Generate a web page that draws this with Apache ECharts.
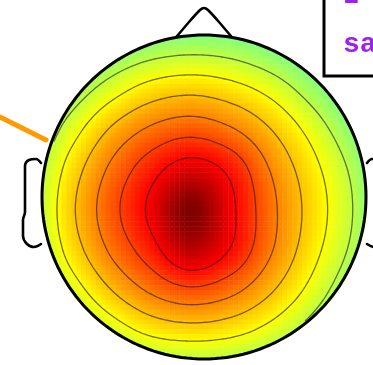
<!DOCTYPE html>
<html>
<head>
<meta charset="utf-8">
<script src="https://cdn.jsdelivr.net/npm/echarts@6/dist/echarts.min.js"></script>
<style>
  html, body { margin: 0; padding: 0; background: #fff; }
  #chart { width: 373px; height: 365px; }
</style>
</head>
<body>
<div id="chart"></div>
<script>
// Scalp potential sampled on a regular 40-unit lattice (plot units, y downward)
const nodeX = [30, 70, 110, 150, 190, 230, 270, 310, 350, 390];
const nodeY = [10, 50, 90, 130, 170, 210, 250, 290, 330, 370];
const potRow10  = [-3.7, -2.6, -1.8, -1.3, -1.05, -1.2, -1.6, -2.4, -3.4, -4.6];
const potRow50  = [-2.3, -1.1, -0.14, 0.52, 0.77, 0.61, 0.05, -0.84, -2.0, -3.3];
const potRow90  = [-1.15, 0.23, 1.51, 2.43, 2.75, 2.44, 1.7, 0.55, -0.77, -2.25];
const potRow130 = [-0.2, 1.48, 3.09, 4.17, 4.65, 4.15, 3.05, 1.71, 0.22, -1.4];
const potRow170 = [0.42, 2.4, 4.17, 5.57, 6.55, 5.77, 3.98, 2.43, 0.9, -0.86];
const potRow210 = [0.64, 2.74, 4.59, 6.19, 8.0, 6.27, 4.32, 2.68, 1.12, -0.68];
const potRow250 = [0.4, 2.37, 4.12, 5.54, 7.05, 5.96, 4.13, 2.45, 0.88, -0.87];
const potRow290 = [-0.27, 1.37, 2.95, 4.15, 4.82, 4.32, 3.15, 1.74, 0.18, -1.5];
const potRow330 = [-1.25, 0.09, 1.35, 2.3, 2.62, 2.4, 1.67, 0.55, -0.77, -2.2];
const potRow370 = [-2.45, -1.25, -0.28, 0.39, 0.64, 0.5, 0.0, -0.86, -2.0, -3.2];
const contourLevels = [1, 2, 3, 4, 5, 6];
const scaleMin = 0;
const scaleMax = 8;
const labelLines = ['I', 'sa'];

// ---- layout & style -------------------------------------------------------
const W = 373, H = 365;
const head = { cx: 204, cy: 197, r: 162 };
const cellsAcross = 66;
const jetTop = ['#80ff80', '#ffff00', '#ff8000', '#ff0000', '#800000'];

const potential = [potRow10, potRow50, potRow90, potRow130, potRow170,
                   potRow210, potRow250, potRow290, potRow330, potRow370];

// Catmull-Rom surface through the lattice
function cr(p0, p1, p2, p3, t) {
  return 0.5 * ((2 * p1) + (-p0 + p2) * t + (2 * p0 - 5 * p1 + 4 * p2 - p3) * t * t +
    (-p0 + 3 * p1 - 3 * p2 + p3) * t * t * t);
}
function locate(nodes, v) {
  let i = 0;
  while (i < nodes.length - 2 && v >= nodes[i + 1]) i++;
  return [i, (v - nodes[i]) / (nodes[i + 1] - nodes[i])];
}
function sample(x, y) {
  const [i, tx] = locate(nodeX, x);
  const [j, ty] = locate(nodeY, y);
  const cl = (k, n) => Math.max(0, Math.min(n - 1, k));
  const rows = [];
  for (let m = -1; m <= 2; m++) {
    const row = potential[cl(j + m, nodeY.length)];
    rows.push(cr(row[cl(i - 1, nodeX.length)], row[cl(i, nodeX.length)],
                 row[cl(i + 1, nodeX.length)], row[cl(i + 2, nodeX.length)], tx));
  }
  return cr(rows[0], rows[1], rows[2], rows[3], ty);
}
const inside = (x, y, pad) => Math.hypot(x - head.cx, y - head.cy) <= head.r + pad;

// heatmap cells
const cell = 2 * head.r / cellsAcross;
const cats = Array.from({ length: cellsAcross }, (_, k) => k);
const cellData = [];
for (let j = 0; j < cellsAcross; j++) {
  for (let i = 0; i < cellsAcross; i++) {
    const x = head.cx - head.r + (i + 0.5) * cell;
    const y = head.cy - head.r + (j + 0.5) * cell;
    if (!inside(x, y, 1)) continue;
    const v = Math.max(scaleMin, Math.min(scaleMax, sample(x, y)));
    cellData.push([i, j, v]);
  }
}

// contour lines by marching squares on a fine sampling
const step = 2;
const gx = [], gy = [];
for (let x = head.cx - head.r - 4; x <= head.cx + head.r + 4; x += step) gx.push(x);
for (let y = head.cy - head.r - 4; y <= head.cy + head.r + 4; y += step) gy.push(y);
const field = gy.map(y => gx.map(x => sample(x, y)));

function segmentsAt(level) {
  const segs = [];
  const below = v => v < level;
  const f = (a, b) => (level - a) / (b - a);
  for (let j = 0; j < gy.length - 1; j++) {
    for (let i = 0; i < gx.length - 1; i++) {
      const v0 = field[j][i], v1 = field[j][i + 1], v2 = field[j + 1][i + 1], v3 = field[j + 1][i];
      const x0 = gx[i], x1 = gx[i + 1], y0 = gy[j], y1 = gy[j + 1];
      const p = [];
      if (below(v0) !== below(v1)) p.push([x0 + (x1 - x0) * f(v0, v1), y0]);
      if (below(v1) !== below(v2)) p.push([x1, y0 + (y1 - y0) * f(v1, v2)]);
      if (below(v3) !== below(v2)) p.push([x0 + (x1 - x0) * f(v3, v2), y1]);
      if (below(v0) !== below(v3)) p.push([x0, y0 + (y1 - y0) * f(v0, v3)]);
      if (p.length === 2) segs.push(p);
      else if (p.length === 4) {
        const c = (v0 + v1 + v2 + v3) / 4;
        if (below(c) === below(v0)) { segs.push([p[0], p[1]]); segs.push([p[2], p[3]]); }
        else { segs.push([p[0], p[3]]); segs.push([p[1], p[2]]); }
      }
    }
  }
  return segs;
}
function chain(segs) {
  const key = p => p[0].toFixed(4) + ',' + p[1].toFixed(4);
  const adj = new Map();
  segs.forEach((s, idx) => s.forEach(pt => {
    const k = key(pt);
    if (!adj.has(k)) adj.set(k, []);
    adj.get(k).push(idx);
  }));
  const used = new Array(segs.length).fill(false);
  const out = [];
  for (let i = 0; i < segs.length; i++) {
    if (used[i]) continue;
    used[i] = true;
    const line = [segs[i][0], segs[i][1]];
    for (const fwd of [true, false]) {
      for (;;) {
        const end = fwd ? line[line.length - 1] : line[0];
        const next = (adj.get(key(end)) || []).find(n => !used[n]);
        if (next === undefined) break;
        used[next] = true;
        const s = segs[next];
        const other = key(s[0]) === key(end) ? s[1] : s[0];
        if (fwd) line.push(other); else line.unshift(other);
      }
    }
    out.push(line);
  }
  return out;
}
function clipToHead(lines) {
  const res = [];
  lines.forEach(line => {
    let run = [];
    line.forEach(pt => {
      if (inside(pt[0], pt[1], -2)) run.push(pt);
      else { if (run.length > 1) res.push(run); run = []; }
    });
    if (run.length > 1) res.push(run);
  });
  return res;
}
const contourData = [];
contourLevels.forEach(lv => {
  clipToHead(chain(segmentsAt(lv))).forEach(c => contourData.push({ coords: c }));
});

// head outline, nose, ears
function circlePts(rad) {
  const pts = [];
  for (let k = 0; k <= 180; k++) {
    const a = k / 180 * Math.PI * 2;
    pts.push([head.cx + rad * Math.cos(a), head.cy + rad * Math.sin(a)]);
  }
  return pts;
}
const noseHalf = 28;
const noseBaseDy = -Math.sqrt(head.r * head.r - noseHalf * noseHalf);
const noseShape = [[-noseHalf, noseBaseDy], [-15, -175], [-4, -187], [0, -189], [4, -187], [15, -175], [noseHalf, noseBaseDy]];
const earShape = [[-163, -34], [-168, -38], [-175, -37], [-179, -31], [-179, 15], [-181, 23], [-181, 39], [-177, 47], [-170, 50], [-163, 47]];
const toPlot = (pts, sx) => pts.map(p => [head.cx + sx * p[0], head.cy + p[1]]);

function pathSeries(pts, color, width, z, smooth) {
  return {
    type: 'line', xAxisIndex: 1, yAxisIndex: 1, data: pts, symbol: 'none',
    smooth: smooth || false, silent: true, z: z,
    lineStyle: { color: color, width: width, cap: 'round', join: 'round' }
  };
}

const hidden = { show: false };
const option = {
  animation: false,
  backgroundColor: '#fff',
  grid: [
    { left: head.cx - head.r, top: head.cy - head.r, width: 2 * head.r, height: 2 * head.r },
    { left: 0, top: 0, width: W, height: H }
  ],
  xAxis: [
    { type: 'category', data: cats, gridIndex: 0, axisLine: hidden, axisTick: hidden, axisLabel: hidden, splitLine: hidden },
    { type: 'value', min: 0, max: W, gridIndex: 1, axisLine: hidden, axisTick: hidden, axisLabel: hidden, splitLine: hidden }
  ],
  yAxis: [
    { type: 'category', data: cats, inverse: true, gridIndex: 0, axisLine: hidden, axisTick: hidden, axisLabel: hidden, splitLine: hidden },
    { type: 'value', min: 0, max: H, inverse: true, gridIndex: 1, axisLine: hidden, axisTick: hidden, axisLabel: hidden, splitLine: hidden }
  ],
  visualMap: {
    type: 'continuous', show: false, seriesIndex: 0, min: scaleMin, max: scaleMax,
    inRange: { color: jetTop }
  },
  series: [
    {
      type: 'heatmap', xAxisIndex: 0, yAxisIndex: 0, data: cellData,
      progressive: 0, silent: true, z: 1, emphasis: { disabled: true }
    },
    {
      type: 'lines', coordinateSystem: 'cartesian2d', xAxisIndex: 1, yAxisIndex: 1,
      polyline: true, data: contourData, silent: true, z: 2, progressive: 0, large: false,
      lineStyle: { color: 'rgba(30,30,30,0.62)', width: 1.3, opacity: 1 }
    },
    pathSeries(circlePts(head.r + 6), '#ffffff', 9, 3),
    pathSeries(toPlot(earShape, 1), '#000', 2.6, 4, 0.35),
    pathSeries(toPlot(earShape, -1), '#000', 2.6, 4, 0.35),
    pathSeries(toPlot(noseShape, 1), '#000', 2.6, 4, 0.2),
    pathSeries(circlePts(head.r), '#000', 3, 5),
    pathSeries([[0, 117], [46, 140]], '#ff9a00', 5, 6)
  ],
  graphic: [
    {
      type: 'rect', z: 10,
      shape: { x: 324, y: -6, width: 70, height: 82 },
      style: { fill: '#fff', stroke: '#000', lineWidth: 3 }
    },
    {
      type: 'text', z: 11, x: 343, y: -4,
      style: { text: labelLines[0], fill: '#a020f0', font: 'bold 28px "Liberation Mono"', verticalAlign: 'middle' }
    },
    {
      type: 'text', z: 11, x: 343, y: 45,
      style: { text: labelLines[1], fill: '#a020f0', font: 'bold 28px "Liberation Mono"', verticalAlign: 'middle' }
    }
  ]
};

const chart = echarts.init(document.getElementById('chart'), null, { renderer: 'canvas' });
chart.setOption(option);
</script>
</body>
</html>
